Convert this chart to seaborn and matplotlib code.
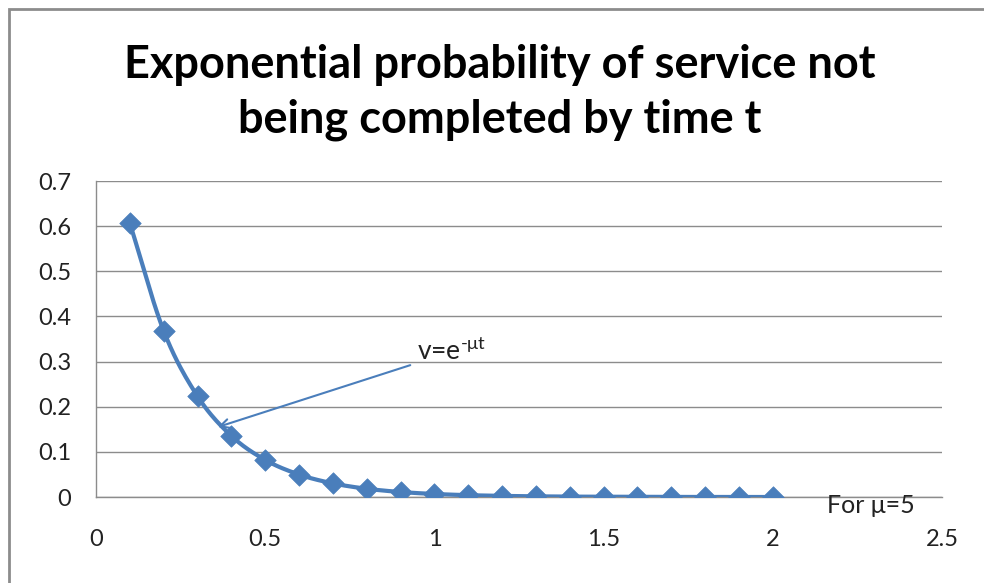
import numpy as np
import pandas as pd
import matplotlib
matplotlib.use("Agg")
import matplotlib.pyplot as plt
import seaborn as sns
from matplotlib.patches import Rectangle

# Data
t_values = [0.1, 0.2, 0.3, 0.4, 0.5, 0.6, 0.7, 0.8, 0.9, 1.0,
            1.1, 1.2, 1.3, 1.4, 1.5, 1.6, 1.7, 1.8, 1.9, 2.0]
prob_values = [0.6065, 0.3679, 0.2231, 0.1353, 0.0821, 0.0498, 0.0302, 0.0183,
               0.0111, 0.0067, 0.0041, 0.0025, 0.0015, 0.0009, 0.0006, 0.0003,
               0.0002, 0.0001, 0.0001, 0.0000]
x_ticks = [0, 0.5, 1, 1.5, 2, 2.5]
y_ticks = [0, 0.1, 0.2, 0.3, 0.4, 0.5, 0.6, 0.7]
title_text = "Exponential probability of service not\nbeing completed by time t"
formula_label = "v=e$^{\\text{-\u03bct}}$"
param_label = "For \u03bc=5"

df = pd.DataFrame({"t": t_values, "p": prob_values})

sns.set_theme(style="white")
plt.rcParams["font.family"] = ["Lato", "DejaVu Sans"]
plt.rcParams["mathtext.fontset"] = "custom"
plt.rcParams["mathtext.rm"] = "Lato"
plt.rcParams["mathtext.it"] = "Lato"
plt.rcParams["mathtext.sf"] = "Lato"

blue = "#4A7EBB"
grid_c = "#8C8C8C"

fig = plt.figure(figsize=(9.84, 5.83), dpi=100)
ax = fig.add_axes([0.0976, 0.1475, 0.8597, 0.542])

# Smoothed line (Catmull-Rom through the data points), like Excel's smoothed line
def smooth(xs, ys, n=20):
    xs = np.asarray(xs, float); ys = np.asarray(ys, float)
    px = np.concatenate([[2*xs[0]-xs[1]], xs, [2*xs[-1]-xs[-2]]])
    py = np.concatenate([[2*ys[0]-ys[1]], ys, [2*ys[-1]-ys[-2]]])
    ox, oy = [], []
    s = np.linspace(0, 1, n, endpoint=False)
    for i in range(1, len(px)-2):
        for arr, out in ((px, ox), (py, oy)):
            p0, p1, p2, p3 = arr[i-1], arr[i], arr[i+1], arr[i+2]
            out.extend(0.5*((2*p1) + (-p0+p2)*s + (2*p0-5*p1+4*p2-p3)*s**2 + (-p0+3*p1-3*p2+p3)*s**3))
    ox.append(xs[-1]); oy.append(ys[-1])
    return pd.DataFrame({"t": ox, "p": oy})

sm = smooth(df["t"], df["p"])
sns.lineplot(data=sm, x="t", y="p", ax=ax, color=blue, linewidth=3.0, sort=False, zorder=3)
sns.scatterplot(data=df, x="t", y="p", ax=ax, color=blue, marker="D", s=120,
                edgecolor=blue, linewidth=0.5, zorder=4)

ax.set_xlim(0, 2.5)
ax.set_ylim(0, 0.7)
ax.set_xticks(x_ticks)
ax.set_xticklabels([f"{v:g}" for v in x_ticks])
ax.set_yticks(y_ticks)
ax.set_yticklabels([f"{v:g}" for v in y_ticks])
ax.set_xlabel("")
ax.set_ylabel("")
ax.yaxis.grid(True, color=grid_c, linewidth=1.0)
ax.xaxis.grid(False)
for side in ["top", "right"]:
    ax.spines[side].set_visible(False)
for side in ["left", "bottom"]:
    ax.spines[side].set_color(grid_c)
    ax.spines[side].set_linewidth(1.0)
ax.tick_params(axis="both", which="both", direction="out", length=6, width=1,
               color=grid_c, labelsize=17, labelcolor="#222222")
ax.tick_params(axis="y", pad=12)
ax.tick_params(axis="x", pad=17)

fig.suptitle(title_text, x=0.508, y=0.925, fontsize=32.5, fontweight="bold",
             color="black", linespacing=1.38)

ax.annotate(formula_label, xy=(0.36, 0.155), xytext=(0.95, 0.322),
            fontsize=19, color="#222222", va="center", ha="left",
            arrowprops=dict(arrowstyle="->", color=blue, lw=1.5,
                            shrinkA=3, shrinkB=0, mutation_scale=16))
ax.text(2.29, -0.018, param_label, fontsize=18, color="#222222",
        ha="center", va="center", clip_on=False)

# Chart frame: visible on the left and top edges only, as in the reference crop
fig.patches.append(Rectangle((0.0092, -0.1), 1.2, 1.0845 + 0.0, transform=fig.transFigure,
                             fill=False, edgecolor="#8C8C8C", linewidth=2.0))

fig.savefig("out.png", dpi=100)
